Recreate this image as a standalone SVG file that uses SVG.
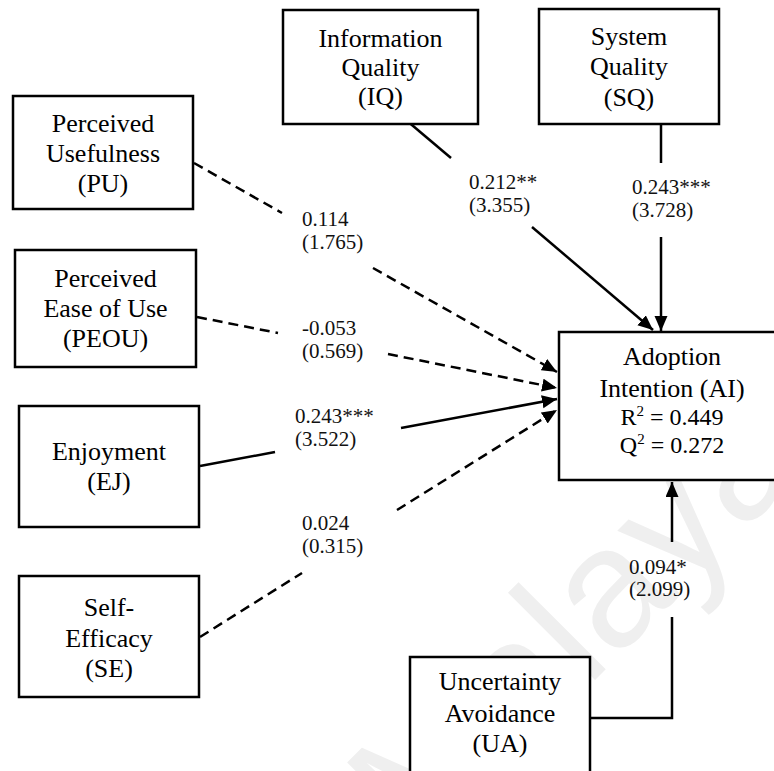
<svg xmlns="http://www.w3.org/2000/svg" width="774" height="771" viewBox="0 0 774 771">
<defs>
<style>
.box{fill:#fff;stroke:#000;stroke-width:2.5}
.t{font-family:'Liberation Serif','Tinos','DejaVu Serif',serif;font-size:26px;fill:#000;text-anchor:middle}
.ai{font-family:'Liberation Serif','Tinos','DejaVu Serif',serif;font-size:24px;fill:#000;text-anchor:middle}
.lb{font-family:'Liberation Serif','Tinos','DejaVu Serif',serif;font-size:21px;fill:#111}
.ln{fill:none;stroke:#000;stroke-width:2.5}
.da{stroke-dasharray:10 6}
.wm{font-family:'Liberation Sans',Arial,sans-serif;font-size:170px;fill:#efefef}
</style>
<marker id="ah" markerUnits="userSpaceOnUse" markerWidth="16" markerHeight="14" refX="15" refY="6.5" orient="auto">
<path d="M0,0 L15,6.5 L0,13 z" fill="#000"/>
</marker>
</defs>
<rect width="774" height="771" fill="#fff"/>
<text class="wm" transform="translate(420,855) rotate(-45)">Malaya</text>

<g id="connectors">
<line class="ln" x1="406" y1="120" x2="451" y2="158"/>
<line class="ln" x1="532" y1="227" x2="653" y2="330" marker-end="url(#ah)"/>
<line class="ln" x1="661" y1="124" x2="661" y2="163"/>
<line class="ln" x1="661" y1="237" x2="661" y2="331" marker-end="url(#ah)"/>
<line class="ln da" x1="194" y1="163" x2="282" y2="213"/>
<line class="ln da" x1="373" y1="268" x2="557" y2="372" marker-end="url(#ah)"/>
<line class="ln da" x1="197" y1="317" x2="278" y2="333"/>
<line class="ln da" x1="388" y1="354" x2="557" y2="388" marker-end="url(#ah)"/>
<line class="ln" x1="200" y1="466" x2="275" y2="452"/>
<line class="ln" x1="401" y1="428" x2="557" y2="399" marker-end="url(#ah)"/>
<line class="ln da" x1="200" y1="637" x2="302" y2="573"/>
<line class="ln da" x1="397" y1="510" x2="557" y2="410" marker-end="url(#ah)"/>
<polyline class="ln" points="590,718 672,718 672,617"/>
<line class="ln" x1="672" y1="542" x2="672" y2="482" marker-end="url(#ah)"/>
</g>

<g id="labels">
<text class="lb" x="302" y="226">0.114</text>
<text class="lb" x="302" y="249">(1.765)</text>
<text class="lb" x="302" y="335">-0.053</text>
<text class="lb" x="302" y="358">(0.569)</text>
<text class="lb" x="469" y="189">0.212**</text>
<text class="lb" x="469" y="212">(3.355)</text>
<text class="lb" x="632" y="194">0.243***</text>
<text class="lb" x="632" y="217">(3.728)</text>
<text class="lb" x="295" y="423">0.243***</text>
<text class="lb" x="295" y="446">(3.522)</text>
<text class="lb" x="302" y="530">0.024</text>
<text class="lb" x="302" y="553">(0.315)</text>
<text class="lb" x="629" y="574">0.094*</text>
<text class="lb" x="629" y="596">(2.099)</text>
</g>

<g id="IQ">
<rect class="box" x="283" y="10" width="195" height="114"/>
<text class="t" x="380.5" y="47">Information</text>
<text class="t" x="380.5" y="76">Quality</text>
<text class="t" x="380.5" y="105">(IQ)</text>
</g>
<g id="SQ">
<rect class="box" x="539" y="9" width="180" height="115"/>
<text class="t" x="629" y="45">System</text>
<text class="t" x="629" y="75">Quality</text>
<text class="t" x="629" y="106">(SQ)</text>
</g>
<g id="PU">
<rect class="box" x="13" y="96" width="180" height="113"/>
<text class="t" x="103" y="132">Perceived</text>
<text class="t" x="103" y="162">Usefulness</text>
<text class="t" x="103" y="192">(PU)</text>
</g>
<g id="PEOU">
<rect class="box" x="15" y="250" width="181" height="117"/>
<text class="t" x="105.5" y="287">Perceived</text>
<text class="t" x="105.5" y="317">Ease of Use</text>
<text class="t" x="105.5" y="347">(PEOU)</text>
</g>
<g id="EJ">
<rect class="box" x="19" y="406" width="180" height="121"/>
<text class="t" x="109" y="460">Enjoyment</text>
<text class="t" x="109" y="490">(EJ)</text>
</g>
<g id="SE">
<rect class="box" x="19" y="576" width="180" height="121"/>
<text class="t" x="109" y="616">Self-</text>
<text class="t" x="109" y="647">Efficacy</text>
<text class="t" x="109" y="677">(SE)</text>
</g>
<g id="AI">
<rect class="box" x="559" y="332" width="230" height="148"/>
<text class="t" x="672" y="365">Adoption</text>
<text class="t" x="672" y="397">Intention (AI)</text>
<text class="ai" x="672" y="425">R<tspan font-size="15" dy="-9">2</tspan><tspan dy="9"> = 0.449</tspan></text>
<text class="ai" x="672" y="453">Q<tspan font-size="15" dy="-9">2</tspan><tspan dy="9"> = 0.272</tspan></text>
</g>
<g id="UA">
<rect class="box" x="410" y="657" width="180" height="130"/>
<text class="t" x="500" y="690">Uncertainty</text>
<text class="t" x="500" y="722">Avoidance</text>
<text class="t" x="500" y="752">(UA)</text>
</g>
</svg>
